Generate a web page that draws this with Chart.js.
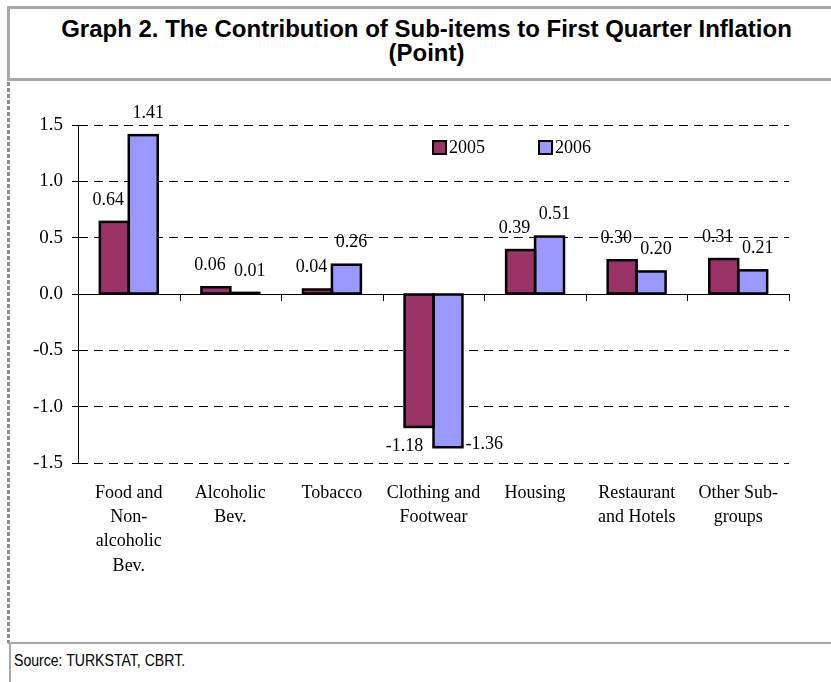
<!DOCTYPE html>
<html>
<head>
<meta charset="utf-8">
<script src="https://cdn.jsdelivr.net/npm/chart.js@4.4.1/dist/chart.umd.min.js"></script>
<style>
  body { margin: 0; background: #fff; }
  #wrap { position: relative; width: 831px; height: 682px; overflow: hidden; }
  #titlebox { position: absolute; left: 7px; top: 6px; width: 840px; height: 69px;
    border: 3px solid #a8a8a8; }
  #title { position: absolute; left: 11px; top: 17px; width: 831px; text-align: center;
    font: bold 24px "Liberation Sans", Arial, sans-serif; line-height: 24px; color: #000; }
  #leftdash { position: absolute; left: 7px; top: 82px; width: 3px; height: 561px;
    background: repeating-linear-gradient(to bottom, #8c8c8c 0 4px, transparent 4px 6px); }
  #srcline { position: absolute; left: 8px; top: 642px; width: 830px; height: 2px; background: #a8a8a8; }
  #srcleft { position: absolute; left: 9px; top: 643px; width: 2px; height: 40px; background: #a8a8a8; }
  #source { position: absolute; left: 14px; top: 652px; transform: scaleX(0.88); transform-origin: left top;
    font: 16px "Liberation Sans", Arial, sans-serif; color: #000; white-space: nowrap; }
  #chart { position: absolute; left: 0; top: 0; }
</style>
</head>
<body>
<div id="wrap">
  <div id="titlebox"></div>
  <div id="title">Graph 2. The Contribution of Sub-items to First Quarter Inflation<br>(Point)</div>
  <div id="leftdash"></div>
  <div id="srcline"></div>
  <div id="srcleft"></div>
  <div id="source">Source: TURKSTAT, CBRT.</div>
  <canvas id="chart" width="831" height="682"></canvas>
</div>
<script>
var categories = [
  ["Food and", "Non-", "alcoholic", "Bev."],
  ["Alcoholic", "Bev."],
  ["Tobacco"],
  ["Clothing and", "Footwear"],
  ["Housing"],
  ["Restaurant", "and Hotels"],
  ["Other Sub-", "groups"]
];
var series2005 = [0.64, 0.06, 0.04, -1.18, 0.39, 0.30, 0.31];
var series2006 = [1.41, 0.01, 0.26, -1.36, 0.51, 0.20, 0.21];
var yTicks = [-1.5, -1.0, -0.5, 0.0, 0.5, 1.0, 1.5];
var seriesNames = ["2005", "2006"];

var serif = "'Liberation Serif', 'Times New Roman', serif";

// bar outlines, zero line with downward category ticks, data labels and legend
var extras = {
  id: "extras",
  afterDatasetsDraw: function(chart) {
    var ctx = chart.ctx;
    var area = chart.chartArea;
    var y0 = chart.scales.y.getPixelForValue(0);
    var n = categories.length;
    var step = (area.right - area.left) / n;

    ctx.save();
    // outlines centred on the bar edges, like the original
    ctx.strokeStyle = "#000";
    ctx.lineWidth = 2.5;
    ctx.lineJoin = "miter";
    chart.data.datasets.forEach(function(ds, d) {
      chart.getDatasetMeta(d).data.forEach(function(bar) {
        var top = Math.min(bar.y, bar.base), h = Math.abs(bar.y - bar.base);
        ctx.strokeRect(bar.x - bar.width / 2, top, bar.width, h);
      });
    });

    ctx.lineWidth = 1;
    ctx.beginPath();
    ctx.moveTo(area.left, Math.round(y0) + 0.5);
    ctx.lineTo(area.right, Math.round(y0) + 0.5);
    for (var i = 1; i <= n; i++) {
      var tx = Math.round(area.left + i * step) + 0.5;
      ctx.moveTo(tx, Math.round(y0));
      ctx.lineTo(tx, Math.round(y0) + 7);
    }
    ctx.stroke();

    // labels
    ctx.fillStyle = "#000";
    ctx.font = "18px " + serif;
    ctx.textBaseline = "middle";
    chart.data.datasets.forEach(function(ds, d) {
      var meta = chart.getDatasetMeta(d);
      meta.data.forEach(function(bar, j) {
        var v = ds.data[j];
        var txt = v.toFixed(2);
        if (v >= 0) {
          ctx.textAlign = "center";
          ctx.fillText(txt, bar.x + (d === 0 ? -6 : 5), bar.y - 22);
        } else if (d === 0) {
          ctx.textAlign = "center";
          ctx.fillText(txt, bar.x - bar.width / 2, bar.y + 19);
        } else {
          ctx.textAlign = "left";
          ctx.fillText(txt, bar.x + bar.width / 2 + 3, bar.y - 3);
        }
      });
    });

    // legend
    var lx = area.left + 355;
    var ly = area.top + 16;
    chart.data.datasets.forEach(function(ds, d) {
      var bx = lx + d * 106;
      ctx.fillStyle = ds.backgroundColor;
      ctx.fillRect(bx, ly, 13, 13);
      ctx.lineWidth = 2;
      ctx.strokeStyle = "#000";
      ctx.strokeRect(bx, ly, 13, 13);
      ctx.fillStyle = "#000";
      ctx.textAlign = "left";
      ctx.font = "18px " + serif;
      ctx.fillText(ds.label, bx + 16, ly + 7);
    });
    ctx.restore();
  }
};

new Chart(document.getElementById("chart"), {
  type: "bar",
  data: {
    labels: categories,
    datasets: [
      { label: seriesNames[0], data: series2005, backgroundColor: "#993366", borderWidth: 0 },
      { label: seriesNames[1], data: series2006, backgroundColor: "#9999FF", borderWidth: 0 }
    ]
  },
  options: {
    responsive: false,
    animation: false,
    events: [],
    categoryPercentage: 0.57,
    barPercentage: 1.0,
    layout: { padding: { top: 125, right: 42, bottom: 0, left: 10 } },
    plugins: { legend: { display: false }, tooltip: { enabled: false } },
    scales: {
      x: {
        grid: { display: false, drawTicks: false },
        border: { display: false },
        ticks: {
          color: "#000", maxRotation: 0, autoSkip: false, padding: 18,
          font: { family: serif, size: 18, lineHeight: 1.35 }
        },
        afterFit: function(scale) { scale.height = 682 - 463; }
      },
      y: {
        min: -1.5, max: 1.5,
        afterBuildTicks: function(scale) {
          scale.ticks = yTicks.map(function(v) { return { value: v }; });
        },
        grid: {
          color: function(c) { return c.tick && c.tick.value === 0 ? "rgba(0,0,0,0)" : "#000"; },
          lineWidth: 1,
          drawTicks: true, tickLength: 6, tickColor: "#000", tickBorderDash: []
        },
        border: { display: true, color: "#000", width: 1, dash: [9, 6] },
        ticks: {
          color: "#000", padding: 9,
          font: { family: serif, size: 19 },
          callback: function(v) { return Number(v).toFixed(1); }
        },
        afterFit: function(scale) { scale.width = 68; }
      }
    }
  },
  plugins: [extras]
});
</script>
</body>
</html>
